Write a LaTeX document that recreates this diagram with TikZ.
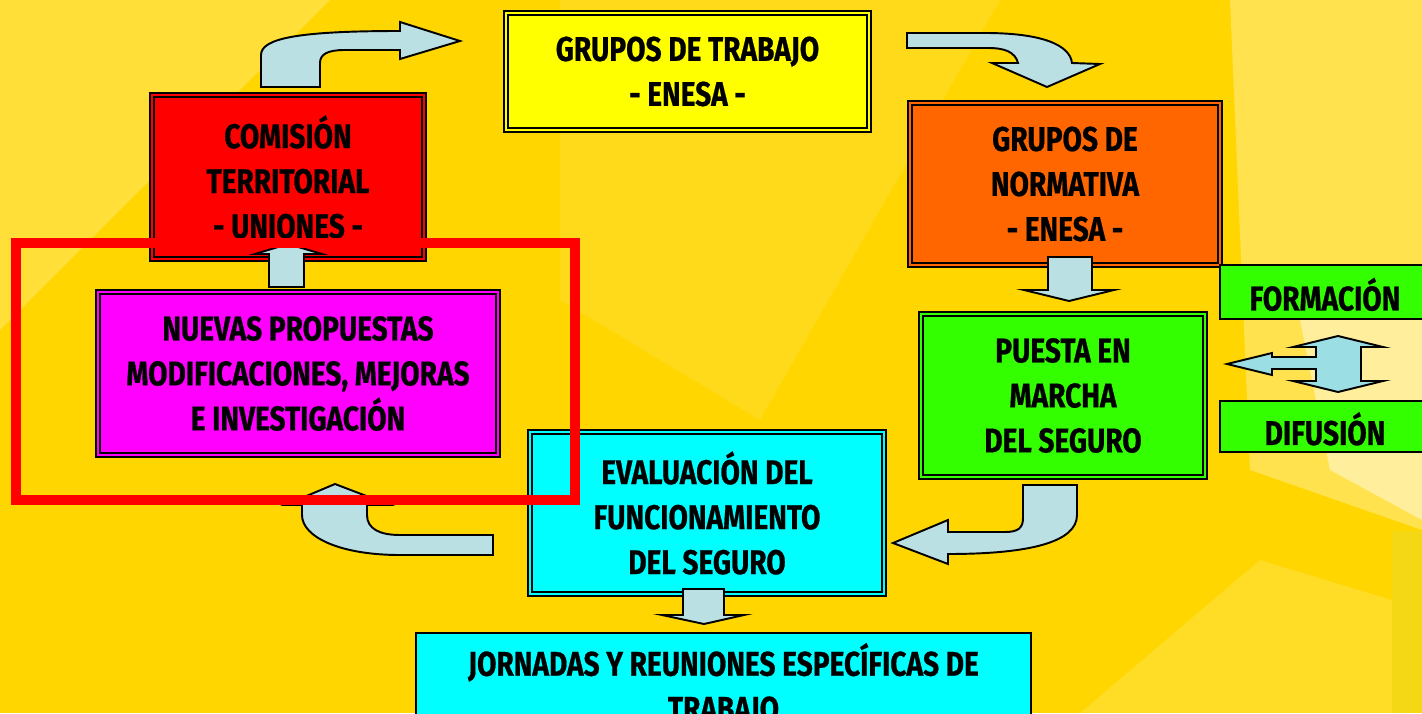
\documentclass[tikz,border=0pt]{standalone}
\usepackage{fontspec}
\newfontfamily\cajafont[FakeStretch=0.82, FakeBold=0.6]{Fira Sans}
\definecolor{fondo}{RGB}{255,214,0}
\definecolor{amarillo}{RGB}{255,255,0}
\definecolor{rojo}{RGB}{255,0,0}
\definecolor{naranja}{RGB}{255,102,0}
\definecolor{verde}{RGB}{51,255,0}
\definecolor{magenta}{RGB}{255,0,255}
\definecolor{cian}{RGB}{0,255,255}
\definecolor{azulflecha}{RGB}{187,224,228}
\definecolor{azulclaro}{RGB}{155,222,228}
\definecolor{panel}{RGB}{244,216,22}
\tikzset{
  caja/.style={draw=black, line width=1.1pt, double=#1, double distance=1.4pt, fill=#1,
    align=center, inner sep=0pt, font=\cajafont\bfseries\fontsize{19.5}{25.6}\selectfont},
  cajasimple/.style={draw=black, line width=1.1pt, fill=#1, inner sep=0pt,
    align=center, font=\cajafont\bfseries\fontsize{19.5}{25.6}\selectfont},
  flecha/.style={draw=black, line width=1.1pt, fill=azulflecha, line join=miter},
}
\begin{document}
\begin{tikzpicture}[x=0.02cm, y=-0.02cm]
  \useasboundingbox (0,0) rectangle (1422,713);
  \clip (0,0) rectangle (1422,713);
  % fondo
  \fill[fondo] (0,0) rectangle (1422,713);
  \fill[white, opacity=0.22] (0,0) -- (330,0) -- (0,330) -- cycle;
  \fill[white, opacity=0.10] (560,0) -- (1000,0) -- (760,420) -- (560,300) -- cycle;
  \fill[white, opacity=0.30] (1230,0) -- (1422,0) -- (1422,530) -- (1250,470) -- cycle;
  \fill[white, opacity=0.15] (1080,713) -- (1260,560) -- (1392,600) -- (1392,713) -- cycle;
  \fill[white, opacity=0.45] (1300,320) -- (1422,300) -- (1422,520) -- (1330,470) -- cycle;
  \fill[panel] (1392,531) rectangle (1422,713);

  % cajas
  \node[caja=amarillo, minimum width=7.26cm, minimum height=2.34cm] (trabajo) at (687.5,71.5)
    {GRUPOS DE TRABAJO\\- ENESA -};
  \node[caja=rojo, minimum width=5.44cm, minimum height=3.28cm] (comision) at (288,177)
    {COMISIÓN\\TERRITORIAL\\- UNIONES -};
  \node[caja=naranja, minimum width=6.2cm, minimum height=3.24cm] (normativa) at (1065,184)
    {GRUPOS DE\\NORMATIVA\\- ENESA -};
  \node[caja=verde, minimum width=5.68cm, minimum height=3.26cm] (puesta) at (1063,395.5)
    {PUESTA EN\\MARCHA\\DEL SEGURO};
  \node[caja=magenta, minimum width=8cm, minimum height=3.26cm] (propuestas) at (298,373.5)
    {NUEVAS PROPUESTAS\\MODIFICACIONES, MEJORAS\\E INVESTIGACIÓN};
  \node[caja=cian, minimum width=7.08cm, minimum height=3.24cm] (evaluacion) at (707,513)
    {EVALUACIÓN DEL\\FUNCIONAMIENTO\\DEL SEGURO};
  \node[cajasimple=verde, minimum width=4.2cm, minimum height=1.08cm, text height=21pt,
    text depth=0pt] (formacion) at (1325,292) {FORMACIÓN};
  \node[cajasimple=verde, minimum width=4.2cm, minimum height=1.02cm, text height=21pt,
    text depth=0pt] (difusion) at (1325,426.5) {DIFUSIÓN};
  \node[cajasimple=cian, minimum width=12.32cm, anchor=north, inner ysep=0.2cm] (jornadas)
    at (723.5,632) {JORNADAS Y REUNIONES ESPECÍFICAS DE\\TRABAJO};

  % flechas
  \draw[flecha] (261,87) -- (261,55) .. controls (261,38) and (300,31) .. (400,31)
    -- (400,22) -- (460,41) -- (400,59) -- (400,50) -- (345,50)
    .. controls (328,50) and (320,54) .. (320,63) -- (320,87) -- cycle;
  \draw[flecha] (907,33) -- (985,33) .. controls (1042,33) and (1070,45) .. (1072,63)
    -- (1100,64) -- (1047,87) -- (992,63) -- (1018,63)
    .. controls (1015,52) and (1005,48) .. (988,48) -- (907,48) -- cycle;
  \draw[flecha] (1048,257) -- (1092,257) -- (1092,290) -- (1114,290) -- (1069,301)
    -- (1024,290) -- (1048,290) -- cycle;
  \draw[flecha] (1023,485) -- (1077,485) -- (1077,515) .. controls (1077,542) and (1030,554) .. (948,554)
    -- (948,564) -- (893,543) -- (948,520) -- (948,532) -- (1005,532)
    .. controls (1018,532) and (1023,528) .. (1023,518) -- cycle;
  \draw[flecha] (683,589) -- (724,589) -- (724,615) -- (744,615) -- (704,624)
    -- (662,615) -- (683,615) -- cycle;
  \draw[flecha] (493,535) -- (493,555) -- (400,555) .. controls (340,555) and (302,537) .. (302,515)
    -- (302,505) -- (285,505) -- (335,484) -- (390,505) -- (367,505) -- (367,515)
    .. controls (367,529) and (380,535) .. (400,535) -- cycle;
  \draw[flecha] (269,287) -- (269,254) -- (255,254) -- (288,244) -- (322,254)
    -- (304,254) -- (304,287) -- cycle;
  \draw[flecha, fill=azulclaro] (1227,364) -- (1272,353) -- (1272,357) -- (1316,357)
    -- (1316,347) -- (1293,347) -- (1338,336) -- (1383,347) -- (1361,347) -- (1361,381)
    -- (1383,381) -- (1338,392) -- (1293,381) -- (1316,381) -- (1316,369) -- (1272,369)
    -- (1272,375) -- cycle;

  % marco
  \draw[rojo, line width=5.7pt] (16,243) rectangle (575,500);
\end{tikzpicture}
\end{document}
